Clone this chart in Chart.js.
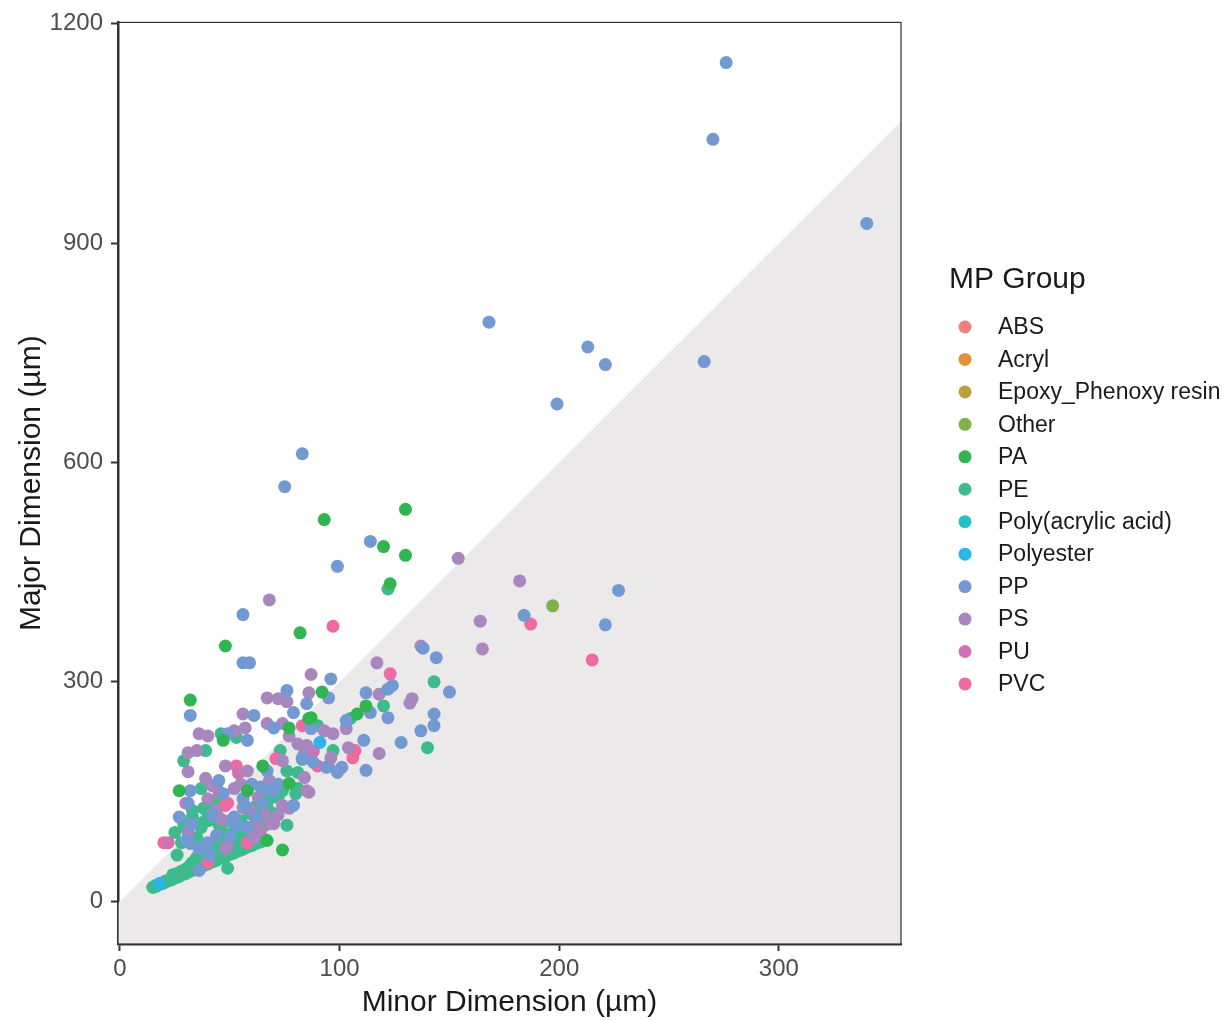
<!DOCTYPE html>
<html>
<head>
<meta charset="utf-8">
<script src="https://cdn.jsdelivr.net/npm/chart.js@4.4.0/dist/chart.umd.min.js"></script>
<style>
html, body { margin: 0; padding: 0; background: #fff; }
</style>
</head>
<body>
<canvas id="myChart" width="1227" height="1021"></canvas>
<script>
// tick labels
const xTicks = [0, 100, 200, 300];
const yTicks = [0, 300, 600, 900, 1200];

// MP groups, in legend order
const groups = ['ABS', 'Acryl', 'Epoxy_Phenoxy resin', 'Other', 'PA', 'PE',
    'Poly(acrylic acid)', 'Polyester', 'PP', 'PS', 'PU', 'PVC'];
const colors = ['#F1807A', '#E0923A', '#B9A040', '#82B04A', '#30B550', '#3DBB8E',
    '#26C0C4', '#2DB5E8', '#7399D3', '#A886BE', '#CF72B3', '#EE6AA3'];

// [minor, major] in µm
const abs = [[17,22],[21,28],[25,33],[30,40],[35,46]];
const acryl = [[46,105],[38,49],[44,57]];
const epoxy = [[27,35]];
const other = [[197,404]];
const pa = [[93,522],[130,536],[120,485],[130,473],[123,434],[48,349],[82,367],[32,275],[27,151],
    [92,286],[47,220],[77,237],[87,251],[65,185],[77,161],[58,151],[67,83],[112,267],[108,256],
    [86,250],[74,70]];
const pe = [[122,427],[143,300],[140,210],[76,104],[46,229],[53,224],[90,240],[97,206],[73,206],
    [76,178],[81,176],[81,154],[29,192],[39,206],[37,154],[74,151],[80,147],[72,142],[41,138],
    [45,134],[38,127],[67,128],[64,101],[62,97],[25,94],[37,101],[34,86],[53,83],[55,70],[26,63],
    [33,53],[36,52],[44,56],[47,60],[50,65],[120,267],[105,250],[83,194],[40,110],[29,106],
    [33,115],[38,108],[40,120],[47,94],[49,79],[35,87],[32,49],[49,45],[33,124],[41,127],[59,120],
    [66,104],[57,90],[60,100],[52,96],[45,78],[42,70],[38,65],[35,60],[55,110],[63,118],[70,120],
    [68,140],[62,130],[45,105],[30,100],[28,80],
    [15,19],[16,20],[17,22],[18,23],[19,24],[20,25],[21,27],[22,28],[23,29],[24,30],[25,32],
    [26,33],[27,34],[28,36],[29,37],[30,38],[31,40],[32,41],[33,42],[34,44],[35,45],[36,46],
    [37,48],[38,49],[39,50],[40,51],[41,53],[42,54],[43,55],[44,57],[46,59],[48,61],[50,64],
    [52,66],[54,69],[56,71],[58,74],[60,76],[62,79],[64,81],[66,84],[26,38],[28,41],[30,44],
    [32,46],[34,49],[36,52],[38,55],[24,36],[45,60],[47,63],[51,67],[53,70],[57,75],[59,78]];
const polyAcrylic = [[15,19],[16,21],[19,25],[23,30]];
const polyester = [[91,217],[18,24]];
const pp = [[276,1147],[270,1042],[340,927],[168,792],[213,758],[221,734],[266,738],[199,680],
    [83,612],[75,567],[114,492],[99,458],[56,392],[56,326],[59,326],[227,425],[184,391],[221,378],
    [144,333],[138,346],[150,286],[143,256],[143,240],[137,233],[128,217],[112,179],[32,254],
    [96,304],[76,288],[95,278],[85,270],[61,254],[49,229],[58,220],[70,237],[87,236],[79,258],
    [94,183],[99,176],[83,196],[67,178],[79,131],[32,151],[45,165],[47,147],[64,156],[67,154],
    [53,104],[58,101],[27,115],[33,106],[40,80],[124,295],[122,290],[112,285],[114,258],[103,247],
    [122,251],[111,220],[101,183],[30,83],[32,79],[32,104],[51,108],[41,63],[36,42],[31,134],
    [52,115],[62,115],[42,118],[72,160],[56,140],[88,190],[57,130],[65,135],[44,90],[50,88],
    [36,72],[60,160],[70,150]];
const ps = [[68,412],[154,469],[182,438],[164,383],[165,345],[137,349],[117,326],[133,277],
    [132,271],[118,283],[87,310],[67,278],[72,277],[76,273],[86,285],[56,256],[36,229],[40,226],
    [52,233],[57,237],[67,243],[74,243],[93,233],[97,229],[77,226],[81,215],[85,213],[96,196],
    [84,202],[74,192],[84,169],[85,151],[31,203],[35,206],[31,177],[39,168],[48,185],[58,178],
    [42,158],[52,154],[68,165],[86,149],[44,124],[56,128],[60,124],[74,131],[77,127],[70,106],
    [50,110],[31,94],[49,76],[118,202],[104,210],[103,236],[95,185],[61,87],[64,97],[69,106],
    [48,72],[40,140],[63,142],[66,118],[55,160],[46,112],[72,118]];
const pu = [[22,80],[54,175],[88,205],[45,150],[62,108]];
const pvc = [[97,376],[187,379],[215,330],[123,311],[83,240],[90,185],[71,195],[53,185],[49,134],
    [30,134],[20,80],[40,53],[58,80],[107,206],[106,196],[48,131]];

// shaded zone under major = 3 x minor
const zoneX = [-10, 400];
const zoneRatio = 3;

const seriesData = [abs, acryl, epoxy, other, pa, pe, polyAcrylic, polyester, pp, ps, pu, pvc];
// groups hidden inside the thin-particle streak sit under PE
const drawOrder = [3, 3, 3, 1, 1, 2, 3, 1, 1, 1, 1, 1];
const family = '"Liberation Sans", Arial, sans-serif';

const datasets = groups.map((g, i) => ({
    label: g,
    data: seriesData[i].map(p => ({ x: p[0], y: p[1] })),
    backgroundColor: colors[i],
    borderWidth: 0,
    pointRadius: 6.5,
    pointHoverRadius: 6.5,
    order: drawOrder[i]
}));

datasets.push({
    type: 'line',
    label: 'zone',
    data: zoneX.map(x => ({ x: x, y: x * zoneRatio })),
    showLine: true,
    borderWidth: 0,
    borderColor: 'rgba(0,0,0,0)',
    pointRadius: 0,
    fill: 'start',
    backgroundColor: '#EBE9EA',
    order: 10
});

const panelBorder = {
    id: 'panelBorder',
    afterDraw(chart) {
        const a = chart.chartArea;
        const ctx = chart.ctx;
        ctx.save();
        ctx.strokeStyle = '#333';
        ctx.lineWidth = 1.2;
        ctx.strokeRect(a.left, a.top, a.right - a.left, a.bottom - a.top);
        ctx.restore();
    }
};

const mpLegend = {
    id: 'mpLegend',
    afterDraw(chart) {
        const a = chart.chartArea;
        const ctx = chart.ctx;
        const x0 = a.right + 48;
        ctx.save();
        ctx.textBaseline = 'middle';
        ctx.textAlign = 'left';
        ctx.fillStyle = '#1a1a1a';
        ctx.font = '30px ' + family;
        ctx.fillText('MP Group', x0, 280);
        ctx.font = '23px ' + family;
        groups.forEach((g, i) => {
            const y = 327 + i * 32.45;
            ctx.fillStyle = colors[i];
            ctx.beginPath();
            ctx.arc(x0 + 16, y, 6.5, 0, Math.PI * 2);
            ctx.fill();
            ctx.fillStyle = '#1a1a1a';
            ctx.fillText(g, x0 + 49, y + 1);
        });
        ctx.restore();
    }
};

const ctx = document.getElementById('myChart').getContext('2d');
const myChart = new Chart(ctx, {
    type: 'scatter',
    data: { datasets: datasets },
    plugins: [panelBorder, mpLegend],
    options: {
        responsive: false,
        animation: false,
        devicePixelRatio: 1,
        layout: { padding: { left: 0, top: 19, right: 326, bottom: 0 } },
        plugins: {
            legend: { display: false },
            tooltip: { enabled: false }
        },
        scales: {
            x: {
                type: 'linear',
                min: -0.9,
                max: 355.6,
                afterBuildTicks: s => { s.ticks = xTicks.map(v => ({ value: v })); },
                afterFit: s => { s.height = 77; },
                grid: { drawOnChartArea: false, drawTicks: true, tickLength: 7, tickColor: '#333', tickWidth: 2 },
                border: { display: true, color: '#333', width: 2.5 },
                ticks: {
                    font: { size: 24, family: family }, color: '#4d4d4d', padding: 4, maxRotation: 0,
                    callback: v => String(v)
                },
                title: {
                    display: true, text: 'Minor Dimension (µm)', color: '#1a1a1a',
                    font: { size: 30, family: family }, padding: { top: 0, bottom: 0 }
                }
            },
            y: {
                type: 'linear',
                min: -58.6,
                max: 1202,
                afterBuildTicks: s => { s.ticks = yTicks.map(v => ({ value: v })); },
                afterFit: s => { s.width = 118; },
                grid: { drawOnChartArea: false, drawTicks: true, tickLength: 7, tickColor: '#333', tickWidth: 2 },
                border: { display: true, color: '#333', width: 2.5 },
                ticks: {
                    font: { size: 24, family: family }, color: '#4d4d4d', padding: 8,
                    callback: v => String(v)
                },
                title: {
                    display: true, text: 'Major Dimension (µm)', color: '#1a1a1a',
                    font: { size: 30, family: family }, padding: { top: 14, bottom: 0 }
                }
            }
        }
    }
});
</script>
</body>
</html>
